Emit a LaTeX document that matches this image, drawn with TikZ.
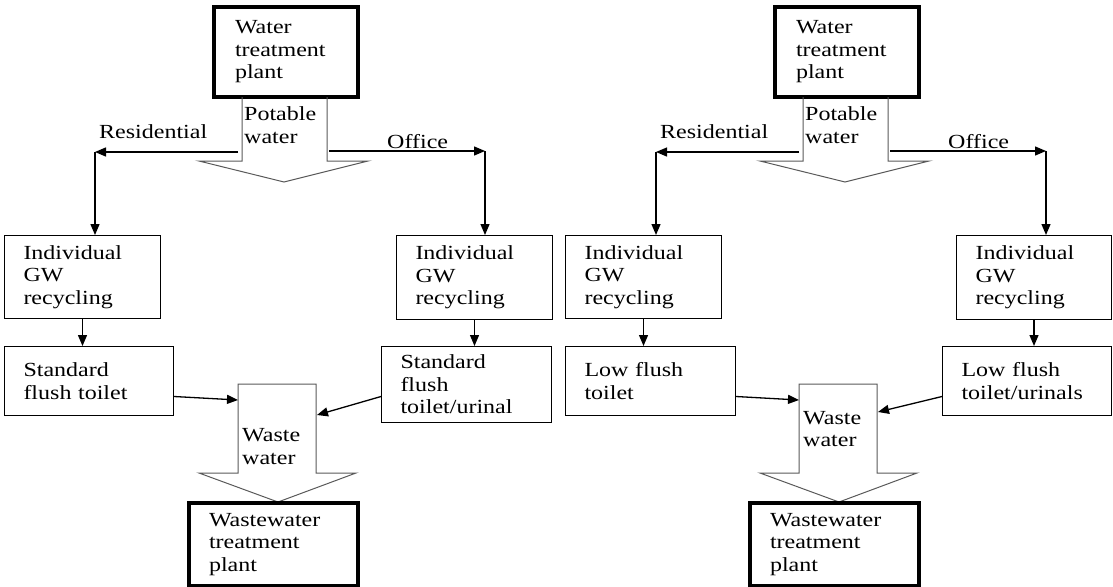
\documentclass[tikz,border=0pt]{standalone}
\usepackage{fontspec}
\setmainfont{Liberation Serif}[FakeStretch=1.2]
\usepackage{tikz}
\usetikzlibrary{arrows.meta,positioning,calc}

\begin{document}
\begin{tikzpicture}[x=1pt, y=-1pt,
    font=\fontsize{20}{22.5}\selectfont,
    box/.style={draw, line width=1pt, align=left, anchor=north west, inner xsep=19pt, inner ysep=0pt},
    plant/.style={box, line width=4pt, inner xsep=21pt},
    lbl/.style={anchor=west, inner sep=0pt, align=left},
    flow/.style={line width=1.3pt, -{Triangle[length=11pt, width=9pt]}},
    block/.style={draw=black!65, line width=1pt, line join=miter}
]
\useasboundingbox (0,0) rectangle (1113,586);

% ---- left: standard toilets
\node[plant, text width=102pt, minimum height=90pt] (wtpLeft) at (212,5) {Water\\treatment\\plant\\[-8pt]};
\draw[block] (242,97) -- (242,161) -- (199,161) -- (284,182) -- (368,161) -- (327,161) -- (327,97);
\node[lbl] (potLeft) at (244,125) {Potable\\water};
\node[lbl] (resLeft) at (99,132) {Residential};
\node[lbl] (offLeft) at (387,142) {Office};

\node[box, text width=118pt, minimum height=83pt] (indResLeft) at (4,235) {Individual\\GW\\recycling};
\node[box, text width=118pt, minimum height=84pt] (indOffLeft) at (396,235) {Individual\\GW\\recycling};
\node[box, text width=131pt, minimum height=69pt] (stdResLeft) at (4,346) {Standard\\flush toilet\\[-6pt]};
\node[box, text width=132pt, minimum height=76pt] (stdOffLeft) at (381,346) {Standard\\flush\\toilet/urinal};

\coordinate (resStartLeft) at (238,152);
\coordinate (resTurnLeft) at (95,152);
\coordinate (offStartLeft) at (329,151);
\coordinate (offTurnLeft) at (485,151);
\draw[flow] (resStartLeft) -- (resTurnLeft);
\draw[flow] (resTurnLeft) -- (resTurnLeft |- indResLeft.north);
\draw[flow] (offStartLeft) -- (offTurnLeft);
\draw[flow] (offTurnLeft) -- (offTurnLeft |- indOffLeft.north);
\draw[flow] (indResLeft.south) -- (indResLeft.south |- stdResLeft.north);
\draw[flow] (indOffLeft.south) -- (indOffLeft.south |- stdOffLeft.north);

\draw[block] (238,384) -- (238,473) -- (199,473) -- (278,502) -- (356,473) -- (316,473) -- (316,384) -- cycle;
\node[lbl] (wasteLeft) at (242,446.5) {Waste\\water};
\coordinate (wasteInResLeft) at (238,400);
\coordinate (wasteInOffLeft) at (317,415);
\draw[flow] ([yshift=-15.5pt]stdResLeft.east) -- (wasteInResLeft);
\draw[flow] ([yshift=-12pt]stdOffLeft.west) -- (wasteInOffLeft);

\node[plant, inner xsep=20pt, text width=129pt, minimum height=83pt] (wwtpLeft) at (187,501) {Wastewater\\treatment\\plant};

% ---- right: low flush toilets
\node[plant, text width=102pt, minimum height=90pt] (wtpRight) at (773,5) {Water\\treatment\\plant\\[-8pt]};
\draw[block] (803,97) -- (803,161) -- (760,161) -- (845,182) -- (929,161) -- (888,161) -- (888,97);
\node[lbl] (potRight) at (805,125) {Potable\\water};
\node[lbl] (resRight) at (660,132) {Residential};
\node[lbl] (offRight) at (948,142) {Office};

\node[box, text width=118pt, minimum height=83pt] (indResRight) at (565,235) {Individual\\GW\\recycling};
\node[box, text width=117pt, minimum height=84pt] (indOffRight) at (956,235) {Individual\\GW\\recycling};
\node[box, text width=132pt, minimum height=69pt] (lowResRight) at (565,346) {Low flush\\toilet\\[-6pt]};
\node[box, text width=131pt, minimum height=69pt] (lowOffRight) at (942,346) {Low flush\\toilet/urinals\\[-6pt]};

\coordinate (resStartRight) at (799,152);
\coordinate (resTurnRight) at (656,152);
\coordinate (offStartRight) at (890,151);
\coordinate (offTurnRight) at (1046,151);
\draw[flow] (resStartRight) -- (resTurnRight);
\draw[flow] (resTurnRight) -- (resTurnRight |- indResRight.north);
\draw[flow] (offStartRight) -- (offTurnRight);
\draw[flow] (offTurnRight) -- (offTurnRight |- indOffRight.north);
\draw[flow] (indResRight.south) -- (indResRight.south |- lowResRight.north);
\draw[flow] (indOffRight.south) -- (indOffRight.south |- lowOffRight.north);

\draw[block] (799,384) -- (799,473) -- (760,473) -- (839,502) -- (917,473) -- (877,473) -- (877,384) -- cycle;
\node[lbl] (wasteRight) at (803,429) {Waste\\water};
\coordinate (wasteInResRight) at (799,400);
\coordinate (wasteInOffRight) at (878,412);
\draw[flow] ([yshift=-15.5pt]lowResRight.east) -- (wasteInResRight);
\draw[flow] ([yshift=-15.5pt]lowOffRight.west) -- (wasteInOffRight);

\node[plant, inner xsep=20pt, text width=129pt, minimum height=83pt] (wwtpRight) at (748,501) {Wastewater\\treatment\\plant};

\end{tikzpicture}
\end{document}
